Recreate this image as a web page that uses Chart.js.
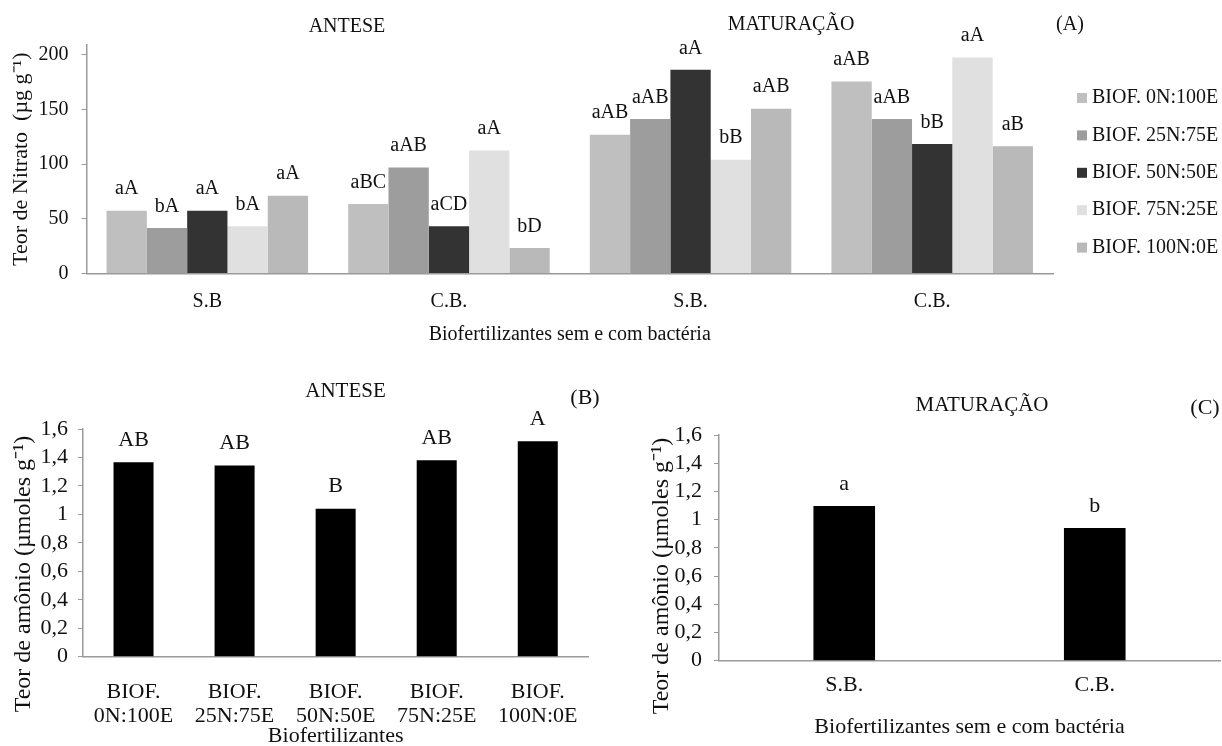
<!DOCTYPE html>
<html>
<head>
<meta charset="utf-8">
<script src="https://cdn.jsdelivr.net/npm/chart.js@4.4.1/dist/chart.umd.min.js"></script>
<style>
  html, body { margin: 0; padding: 0; background: #ffffff; }
  body { width: 1222px; height: 746px; position: relative; overflow: hidden; }
  canvas { position: absolute; display: block; }
  #ca { left: 0; top: 0; }
  #cb { left: 0; top: 345px; }
  #cc { left: 610px; top: 345px; }
</style>
</head>
<body>
<canvas id="ca" width="1222" height="345"></canvas>
<canvas id="cb" width="610" height="401"></canvas>
<canvas id="cc" width="612" height="401"></canvas>
<script>
// ---------------- DATA ----------------
// Panel (A): Teor de Nitrato
const nitratoCategories = ['S.B', 'C.B.', 'S.B.', 'C.B.'];
const seriesNames = ['BIOF. 0N:100E', 'BIOF. 25N:75E', 'BIOF. 50N:50E', 'BIOF. 75N:25E', 'BIOF. 100N:0E'];
const nitrato0N100E = [57.5, 63.6, 127.0, 175.6];
const nitrato25N75E = [41.7, 97.0, 141.3, 141.3];
const nitrato50N50E = [57.5, 43.2, 186.3, 118.4];
const nitrato75N25E = [43.2, 112.6, 104.1, 197.5];
const nitrato100N0E = [71.2, 23.4, 150.7, 116.3];
const letras0N100E = ['aA', 'aBC', 'aAB', 'aAB'];
const letras25N75E = ['bA', 'aAB', 'aAB', 'aAB'];
const letras50N50E = ['aA', 'aCD', 'aA', 'bB'];
const letras75N25E = ['bA', 'aA', 'bB', 'aA'];
const letras100N0E = ['aA', 'bD', 'aAB', 'aB'];
const nitratoTicks = [0, 50, 100, 150, 200];

// Panel (B): Teor de amônio - Antese
const amonioAnteseCategories = [['BIOF.', '0N:100E'], ['BIOF.', '25N:75E'], ['BIOF.', '50N:50E'], ['BIOF.', '75N:25E'], ['BIOF.', '100N:0E']];
const amonioAntese = [1.366, 1.343, 1.040, 1.380, 1.514];
const letrasAntese = ['AB', 'AB', 'B', 'AB', 'A'];

// Panel (C): Teor de amônio - Maturação
const amonioMaturacaoCategories = ['S.B.', 'C.B.'];
const amonioMaturacao = [1.097, 0.940];
const letrasMaturacao = ['a', 'b'];

const amonioTicks = [0, 0.2, 0.4, 0.6, 0.8, 1.0, 1.2, 1.4, 1.6];
const amonioTickLabels = ['0', '0,2', '0,4', '0,6', '0,8', '1', '1,2', '1,4', '1,6'];

// ---------------- STYLE ----------------
const FF = "'Liberation Serif', 'Times New Roman', serif";
const TXT = '#111111';
const AX = '#9a9a9a';
const seriesColors = ['#bfbfbf', '#9d9d9d', '#333333', '#e0e0e0', '#b9b9b9'];

// ---------------- PLUGINS ----------------
const barLetters = {
  id: 'barLetters',
  afterDatasetsDraw(chart, args, opts) {
    const ctx = chart.ctx;
    ctx.save();
    ctx.font = opts.size + 'px ' + FF;
    ctx.fillStyle = TXT;
    ctx.textAlign = 'center';
    ctx.textBaseline = 'middle';
    chart.data.datasets.forEach((ds, di) => {
      const meta = chart.getDatasetMeta(di);
      meta.data.forEach((bar, i) => {
        const t = ds.letters ? ds.letters[i] : null;
        if (t) ctx.fillText(t, bar.x, bar.y - opts.offset);
      });
    });
    ctx.restore();
  }
};

const panelText = {
  id: 'panelText',
  afterDraw(chart, args, opts) {
    const ctx = chart.ctx;
    (opts.items || []).forEach(it => {
      ctx.save();
      ctx.font = it.size + 'px ' + FF;
      ctx.fillStyle = TXT;
      ctx.textAlign = 'center';
      ctx.textBaseline = 'middle';
      ctx.translate(it.x, it.y);
      if (it.rotate) ctx.rotate(it.rotate);
      ctx.fillText(it.text, 0, 0);
      ctx.restore();
    });
  }
};

const sideLegend = {
  id: 'sideLegend',
  afterDraw(chart, args, opts) {
    if (!opts.show) return;
    const ctx = chart.ctx;
    ctx.save();
    ctx.font = opts.size + 'px ' + FF;
    ctx.textAlign = 'left';
    ctx.textBaseline = 'middle';
    chart.data.datasets.forEach((ds, i) => {
      const cy = opts.y0 + i * opts.step;
      ctx.fillStyle = ds.backgroundColor;
      ctx.fillRect(opts.x, cy - opts.box / 2, opts.box, opts.box);
      ctx.fillStyle = TXT;
      ctx.fillText(ds.label, opts.textX, cy);
    });
    ctx.restore();
  }
};

const common = {
  responsive: false,
  animation: false,
  events: []
};

// ---------------- CHART A ----------------
const nitratoValues = [nitrato0N100E, nitrato25N75E, nitrato50N50E, nitrato75N25E, nitrato100N0E];
const nitratoLetters = [letras0N100E, letras25N75E, letras50N50E, letras75N25E, letras100N0E];

new Chart(document.getElementById('ca'), {
  type: 'bar',
  data: {
    labels: nitratoCategories,
    datasets: seriesNames.map((n, k) => ({
      label: n,
      data: nitratoValues[k],
      letters: nitratoLetters[k],
      backgroundColor: seriesColors[k],
      borderWidth: 0,
      categoryPercentage: 0.834,
      barPercentage: 1
    }))
  },
  options: Object.assign({}, common, {
    layout: { padding: { left: 0, top: 45, right: 1222 - 1053, bottom: 0 } },
    plugins: {
      legend: { display: false },
      tooltip: { enabled: false },
      barLetters: { size: 20, offset: 21.5 },
      sideLegend: { show: true, size: 20, x: 1077, box: 10, textX: 1092, y0: 98, step: 37.4 },
      panelText: { items: [
        { text: 'ANTESE', x: 347, y: 27, size: 20 },
        { text: 'MATURAÇÃO', x: 791, y: 25, size: 20 },
        { text: '(A)', x: 1070, y: 25, size: 20 }
      ] }
    },
    scales: {
      x: {
        ticks: { font: { family: FF, size: 20 }, color: TXT, padding: 16 },
        grid: { drawOnChartArea: false, drawTicks: false },
        border: { color: AX, width: 1.5 },
        title: { display: true, text: 'Biofertilizantes sem e com bactéria', font: { family: FF, size: 20, lineHeight: 1 }, color: TXT, padding: { top: 0, bottom: 0 } },
        afterFit(s) { s.height = 345 - 273.5; }
      },
      y: {
        min: 0, max: 209,
        afterBuildTicks(s) { s.ticks = nitratoTicks.map(v => ({ value: v })); },
        ticks: { font: { family: FF, size: 20 }, color: TXT, padding: 13, autoSkip: false },
        grid: { drawOnChartArea: false, drawTicks: true, tickLength: 5, color: AX },
        border: { color: AX, width: 1.5 },
        title: { display: true, text: 'Teor de Nitrato  (µg g⁻¹)', font: { family: FF, size: 22 }, color: TXT, padding: { top: 8.5, bottom: 0 } },
        afterFit(s) { s.width = 86.5; }
      }
    }
  }),
  plugins: [barLetters, panelText, sideLegend]
});

// ---------------- CHART B ----------------
new Chart(document.getElementById('cb'), {
  type: 'bar',
  data: {
    labels: amonioAnteseCategories,
    datasets: [{
      label: 'Antese',
      data: amonioAntese,
      letters: letrasAntese,
      backgroundColor: '#000000',
      borderWidth: 0,
      categoryPercentage: 1,
      barPercentage: 0.396
    }]
  },
  options: Object.assign({}, common, {
    layout: { padding: { left: 0, top: 84, right: 610 - 588.3, bottom: 0 } },
    plugins: {
      legend: { display: false },
      tooltip: { enabled: false },
      barLetters: { size: 22, offset: 22 },
      sideLegend: { show: false },
      panelText: { items: [
        { text: 'ANTESE', x: 345.5, y: 46.7, size: 21 },
        { text: '(B)', x: 585, y: 53.3, size: 22 },
        { text: 'Teor de amônio (µmoles g⁻¹)', x: 23.7, y: 229, size: 24, rotate: -Math.PI / 2 }
      ] }
    },
    scales: {
      x: {
        ticks: { font: { family: FF, size: 22, lineHeight: 1.05 }, color: TXT, padding: 24.4, maxRotation: 0, autoSkip: false },
        grid: { drawOnChartArea: false, drawTicks: false },
        border: { color: AX, width: 1.5 },
        title: { display: true, text: 'Biofertilizantes', font: { family: FF, size: 22, lineHeight: 0.85 }, color: TXT, padding: { top: 0, bottom: 0 } },
        afterFit(s) { s.height = 401 - 311.7; }
      },
      y: {
        min: 0, max: 1.6,
        afterBuildTicks(s) { s.ticks = amonioTicks.map(v => ({ value: v })); },
        ticks: { font: { family: FF, size: 22 }, color: TXT, padding: 10, autoSkip: false, callback: (v, i) => amonioTickLabels[i] },
        grid: { drawOnChartArea: false, drawTicks: true, tickLength: 5, color: AX },
        border: { color: AX, width: 1.5 },
        afterFit(s) { s.width = 83; }
      }
    }
  }),
  plugins: [barLetters, panelText, sideLegend]
});

// ---------------- CHART C ----------------
new Chart(document.getElementById('cc'), {
  type: 'bar',
  data: {
    labels: amonioMaturacaoCategories,
    datasets: [{
      label: 'Maturação',
      data: amonioMaturacao,
      letters: letrasMaturacao,
      backgroundColor: '#000000',
      borderWidth: 0,
      categoryPercentage: 1,
      barPercentage: 0.246
    }]
  },
  options: Object.assign({}, common, {
    layout: { padding: { left: 0, top: 90, right: 2, bottom: 0 } },
    plugins: {
      legend: { display: false },
      tooltip: { enabled: false },
      barLetters: { size: 22, offset: 21.5 },
      sideLegend: { show: false },
      panelText: { items: [
        { text: 'MATURAÇÃO', x: 372, y: 60, size: 21 },
        { text: '(C)', x: 595, y: 63.3, size: 22 },
        { text: 'Teor de amônio (µmoles g⁻¹)', x: 51.7, y: 231, size: 24, rotate: -Math.PI / 2 }
      ] }
    },
    scales: {
      x: {
        ticks: { font: { family: FF, size: 22 }, color: TXT, padding: 11, maxRotation: 0 },
        grid: { drawOnChartArea: false, drawTicks: false },
        border: { color: AX, width: 1.5 },
        title: { display: true, text: 'Biofertilizantes sem e com bactéria', font: { family: FF, size: 22 }, color: TXT, padding: { top: 0, bottom: 6 } },
        afterFit(s) { s.height = 401 - 315.7; }
      },
      y: {
        min: 0, max: 1.6,
        afterBuildTicks(s) { s.ticks = amonioTicks.map(v => ({ value: v })); },
        ticks: { font: { family: FF, size: 22 }, color: TXT, padding: 12, autoSkip: false, callback: (v, i) => amonioTickLabels[i] },
        grid: { drawOnChartArea: false, drawTicks: true, tickLength: 5, color: AX },
        border: { color: AX, width: 1.5 },
        afterFit(s) { s.width = 109; }
      }
    }
  }),
  plugins: [barLetters, panelText, sideLegend]
});
</script>
</body>
</html>
